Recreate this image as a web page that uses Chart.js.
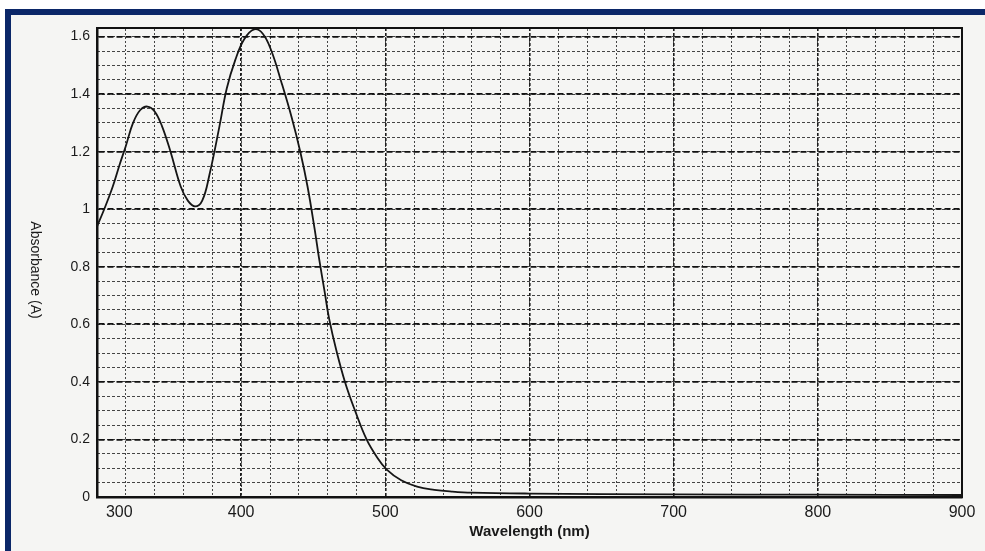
<!DOCTYPE html>
<html>
<head>
<meta charset="utf-8">
<title>Absorbance spectrum</title>
<script src="https://cdn.jsdelivr.net/npm/chart.js@4"></script>
<style>
  html, body { margin: 0; padding: 0; background: #fff; }
  .frame {
    position: absolute; left: 5px; top: 9px; width: 980px; height: 542px;
    box-sizing: border-box;
    border-left: 6px solid #0b2768; border-top: 6px solid #0b2768;
    background: #f5f5f3;
  }
  .chart-box { position: absolute; left: 0; top: 0; width: 985px; height: 551px; }
</style>
</head>
<body>
<div class="frame"></div>
<div class="chart-box"><canvas id="spectrum" width="985" height="551"></canvas></div>
<script>
// values
const wavelength = [300, 305, 311, 316, 320, 325, 330, 335, 340, 345, 351, 358, 363, 368, 373,
  378, 385, 390, 396, 402, 409, 415, 421, 428, 435, 441, 446, 451, 454, 458, 461, 466, 472,
  479, 487, 494, 501, 511, 522, 534, 546, 560, 600, 700, 800, 900];
const absorbance = [0.94, 1.00, 1.08, 1.16, 1.22, 1.30, 1.345, 1.357, 1.34, 1.29, 1.20, 1.08, 1.03, 1.01, 1.03,
  1.12, 1.29, 1.42, 1.52, 1.59, 1.625, 1.61, 1.55, 1.44, 1.32, 1.20, 1.08, 0.93, 0.83, 0.71, 0.62, 0.51, 0.40,
  0.30, 0.20, 0.14, 0.095, 0.058, 0.036, 0.025, 0.019, 0.015, 0.012, 0.009, 0.008, 0.007];

const xTicks = [300, 400, 500, 600, 700, 800, 900];
const yTicks = [0, 0.2, 0.4, 0.6, 0.8, 1, 1.2, 1.4, 1.6];

const font = '"Liberation Sans", Arial, sans-serif';
const ink = '#1a1a1a';

// y title reads top to bottom in the original
const yTitlePlugin = {
  id: 'yTitle',
  afterDraw(chart) {
    const ctx = chart.ctx;
    ctx.save();
    ctx.translate(35, 270);
    ctx.rotate(Math.PI / 2);
    ctx.font = '14px ' + font;
    ctx.fillStyle = ink;
    ctx.textAlign = 'center';
    ctx.textBaseline = 'middle';
    ctx.fillText('Absorbance (A)', 0, 0);
    ctx.restore();
  }
};

new Chart(document.getElementById('spectrum'), {
  type: 'line',
  data: {
    datasets: [{
      data: wavelength.map((w, i) => ({ x: w, y: absorbance[i] })),
      xAxisID: 'x',
      yAxisID: 'y',
      borderColor: '#151515',
      borderWidth: 1.8,
      pointRadius: 0,
      tension: 0.4,
      fill: false
    }]
  },
  options: {
    responsive: false,
    animation: false,
    layout: { padding: 0 },
    plugins: { legend: { display: false }, tooltip: { enabled: false } },
    scales: {
      xMinor: {
        type: 'linear', position: 'top', min: 300, max: 900,
        ticks: { display: false, stepSize: 20 },
        grid: { color: '#444', lineWidth: 1, drawTicks: false, z: -1 },
        border: { color: '#111', width: 2, dash: [2, 2] },
        afterFit: s => { s.height = 28; }
      },
      yMinor: {
        type: 'linear', position: 'right', min: 0, max: 1.63,
        ticks: { display: false, stepSize: 0.05, includeBounds: false },
        grid: { color: '#444', lineWidth: 1, drawTicks: false, z: -1 },
        border: { color: '#111', width: 2, dash: [3, 2] },
        afterFit: s => { s.width = 23; }
      },
      x: {
        type: 'linear', position: 'bottom', min: 300, max: 900,
        afterBuildTicks: s => { s.ticks = xTicks.map(v => ({ value: v })); },
        afterFit: s => { s.height = 54; },
        ticks: { color: ink, font: { size: 16, family: font }, padding: 6, maxRotation: 0, autoSkip: false,
                 // the first label sits a little right of its grid line in the scan
                 callback: v => (v === 300 ? '\u2007\u2007\u2007\u2007\u2007300' : String(v)) },
        grid: { color: '#1c1c1c', lineWidth: 1.6, drawTicks: false },
        border: { color: '#111', width: 2.5, dash: [3, 2] },
        title: { display: true, text: 'Wavelength (nm)', color: ink,
                 font: { size: 15, weight: 'bold', family: font }, padding: { top: 0, bottom: 10 } }
      },
      y: {
        type: 'linear', position: 'left', min: 0, max: 1.63,
        afterBuildTicks: s => { s.ticks = yTicks.map(v => ({ value: v })); },
        afterFit: s => { s.width = 97; },
        ticks: { color: ink, font: { size: 14, family: font }, padding: 7, autoSkip: false,
                 callback: v => String(+v.toFixed(1)) },
        grid: { color: '#111', lineWidth: 1.8, drawTicks: false },
        border: { color: '#111', width: 2.5, dash: [6, 3] }
      }
    }
  },
  plugins: [yTitlePlugin]
});
</script>
</body>
</html>
